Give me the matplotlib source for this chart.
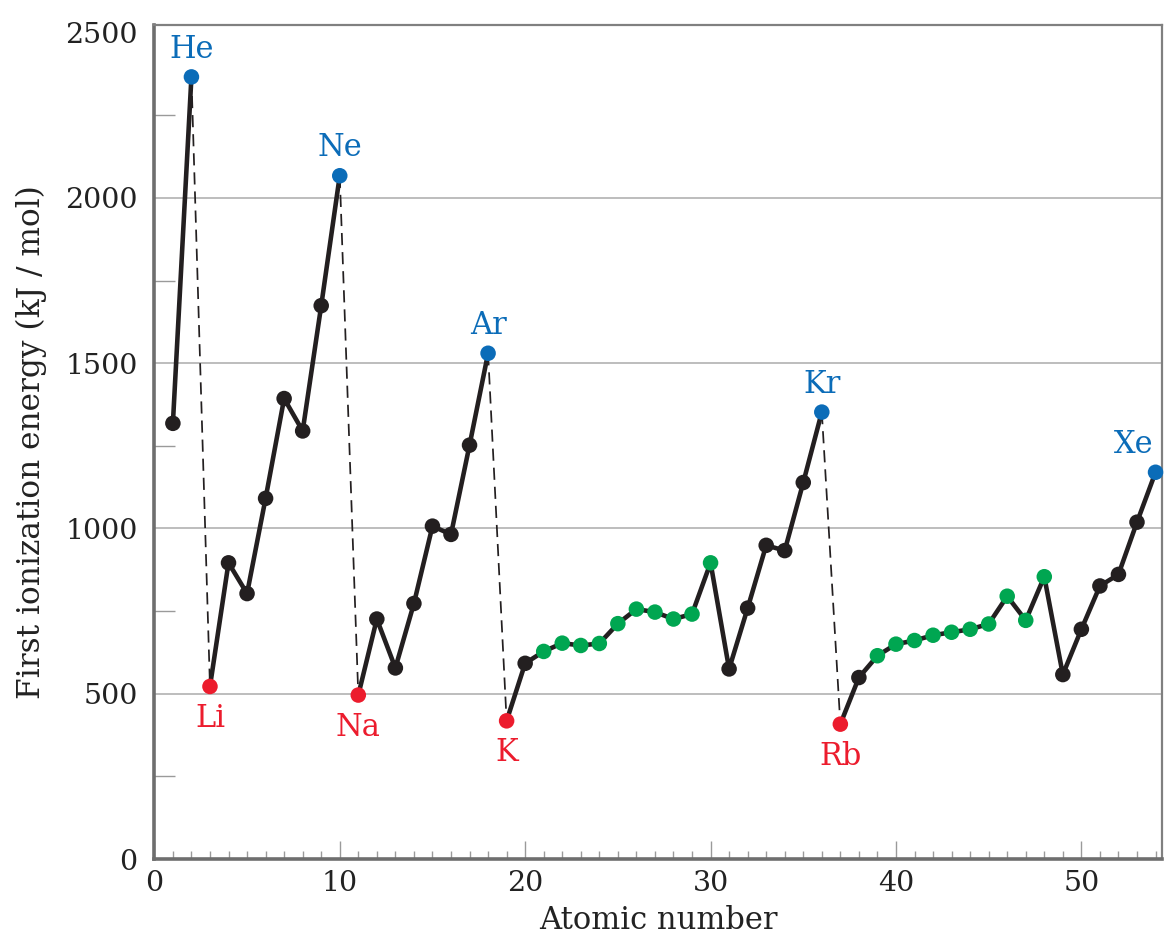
import numpy as np
import matplotlib.pyplot as plt

# first ionization energy (kJ/mol), Z = 1..54
atomic_number = np.arange(1, 55)
ion_energy = [1318, 2366, 522, 896, 803, 1091, 1393, 1295, 1674, 2067,
              496, 726, 578, 773, 1007, 982, 1252, 1530,
              418, 592, 628, 653, 646, 652, 712, 756, 747, 726, 741, 896,
              575, 759, 949, 933, 1139, 1352,
              408, 549, 615, 650, 661, 677, 686, 695, 711, 795, 722, 854,
              558, 695, 826, 861, 1019, 1170]

noble_gases = {'He': 2, 'Ne': 10, 'Ar': 18, 'Kr': 36, 'Xe': 54}
alkali_metals = {'Li': 3, 'Na': 11, 'K': 19, 'Rb': 37}
transition_Z = list(range(21, 31)) + list(range(39, 49))

y_ticks = [0, 500, 1000, 1500, 2000, 2500]
grid_vals = [500, 1000, 1500, 2000]

c_black = '#231f20'
c_blue = '#0b6cb8'
c_red = '#ec1c2d'
c_green = '#00a651'
c_grid = '#bdbdbd'
c_axis = '#6e6e6e'

plt.rcParams['font.family'] = ['DejaVu Serif']

fig = plt.figure(figsize=(11.64, 9.47), dpi=100)
ax = fig.add_axes([0.1326, 0.0929, 0.8657, 0.8807])

Z = np.array(atomic_number)
IE = np.array(ion_energy)
E = dict(zip(Z, IE))

# solid line within each period, dashed drop from noble gas to next alkali
starts = [1, 3, 11, 19, 37]
ends = [2, 10, 18, 36, 54]
for a, b in zip(starts, ends):
    m = (Z >= a) & (Z <= b)
    ax.plot(Z[m], IE[m], '-', color=c_black, lw=3.3, zorder=3,
            solid_capstyle='round', clip_on=False)
for z in ends[:-1]:
    ax.plot([z, z + 1], [E[z], E[z + 1]], linestyle=(0, (7, 4)), lw=1.25,
            color=c_black, zorder=2)

colors = []
for z in Z:
    if z in noble_gases.values():
        colors.append(c_blue)
    elif z in alkali_metals.values():
        colors.append(c_red)
    elif z in transition_Z:
        colors.append(c_green)
    else:
        colors.append(c_black)
ax.scatter(Z, IE, s=125, c=colors, zorder=4, linewidths=0, clip_on=False)

for name, z in noble_gases.items():
    dx = -16 if name == 'Xe' else 0
    ax.annotate(name, (z, E[z]), xytext=(dx, 20), textcoords='offset points',
                ha='center', va='center', fontsize=22, color=c_blue)
for name, z in alkali_metals.items():
    ax.annotate(name, (z, E[z]), xytext=(0, -23), textcoords='offset points',
                ha='center', va='center', fontsize=22, color=c_red)

ax.set_xlim(0, 54.35)
ax.set_ylim(0, 2523)

ax.set_yticks(y_ticks)
ax.set_yticks(np.arange(250, 2500, 500), minor=True)
ax.set_xticks([0, 10, 20, 30, 40, 50])
ax.set_xticks(np.arange(1, 55), minor=True)

for g in grid_vals:
    ax.axhline(g, color=c_grid, lw=1.4, zorder=0)

ax.tick_params(axis='y', which='major', direction='in', length=0,
               labelsize=20.5, pad=12, labelcolor='#222222')
ax.tick_params(axis='y', which='minor', direction='in', length=15,
               width=1.0, color='#9a9a9a')
ax.tick_params(axis='x', which='major', direction='in', length=13,
               width=1.0, color='#9a9a9a', labelsize=20.5, pad=8,
               labelcolor='#222222')
ax.tick_params(axis='x', which='minor', direction='in', length=6,
               width=1.0, color='#9a9a9a')

for side in ['left', 'bottom']:
    ax.spines[side].set_linewidth(2.6)
    ax.spines[side].set_color(c_axis)
for side in ['top', 'right']:
    ax.spines[side].set_linewidth(1.6)
    ax.spines[side].set_color('#808080')

ax.set_xlabel('Atomic number', fontsize=22, color='#222222', labelpad=6)
ax.set_ylabel('First ionization energy (kJ / mol)', fontsize=22.5,
              color='#222222', labelpad=13)

fig.savefig('out.png', dpi=100)
plt.close(fig)
